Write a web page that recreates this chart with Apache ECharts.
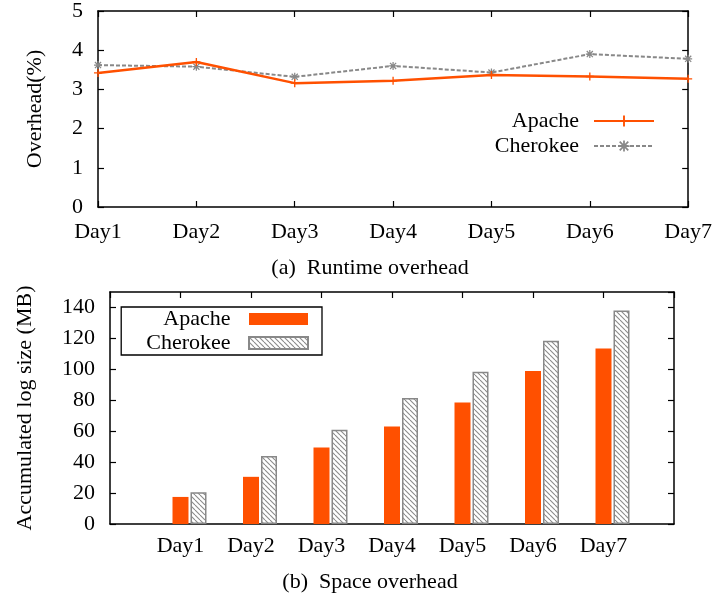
<!DOCTYPE html>
<html><head><meta charset="utf-8">
<script src="https://cdn.jsdelivr.net/npm/echarts@6/dist/echarts.min.js"></script>
<style>html,body{margin:0;padding:0;background:#fff}#c{width:715px;height:597px}</style>
</head><body><div id="c"></div>
<script>
// ---- data ----
const days = ['Day1', 'Day2', 'Day3', 'Day4', 'Day5', 'Day6', 'Day7'];
const runtimeApache = [3.42, 3.70, 3.16, 3.22, 3.37, 3.33, 3.27];
const runtimeCherokee = [3.62, 3.58, 3.32, 3.60, 3.43, 3.90, 3.78];
const spaceApache = [17.5, 30.5, 49.5, 63, 78.5, 99, 113.5];
const spaceCherokee = [20.5, 44, 61, 81.5, 98.5, 118.5, 138];
const runtimeTicks = [0, 1, 2, 3, 4, 5];
const spaceTicks = [0, 20, 40, 60, 80, 100, 120, 140];
const captionA = '(a)  Runtime overhead';
const captionB = '(b)  Space overhead';

// ---- styling ----
const FONT = 'Liberation Serif';
const FS = 22;
const ORANGE = '#ff5000';
const GRAY = '#888888';

function hatch() {
  const c = document.createElement('canvas');
  c.width = 5; c.height = 5;
  const g = c.getContext('2d');
  g.fillStyle = '#fff'; g.fillRect(0, 0, 5, 5);
  g.strokeStyle = '#8a8a8a'; g.lineWidth = 1.1;
  for (let i = -5; i <= 5; i += 5) {
    g.beginPath(); g.moveTo(i, 0); g.lineTo(i + 5, 5); g.stroke();
  }
  return c;
}

const padCats = [''].concat(days, ['']);
const pad = arr => ['-'].concat(arr, ['-']);

const axisLine = { show: true, onZero: false, lineStyle: { color: '#000', width: 1.5 } };
const tickIn = { show: true, inside: true, length: 6, lineStyle: { color: '#000', width: 1.2 } };
const lbl = { color: '#000', fontFamily: FONT, fontSize: FS };

const plusSym = 'path://M-0.5,-3H0.5V-0.5H3V0.5H0.5V3H-0.5V0.5H-3V-0.5H-0.5Z';
const starSym = 'path://M-2.8,-2.1L-2.1,-2.8L2.8,2.1L2.1,2.8Z M2.1,-2.8L2.8,-2.1L-2.1,2.8L-2.8,2.1Z M-3.2,-0.5L3.2,-0.5L3.2,0.5L-3.2,0.5Z M-0.5,-3.2L0.5,-3.2L0.5,3.2L-0.5,3.2Z';

const chart = echarts.init(document.getElementById('c'), null, { renderer: 'canvas' });
chart.setOption({
  backgroundColor: '#fff',
  animation: false,
  textStyle: { fontFamily: FONT },
  title: [
    { text: captionA, left: 365, top: 252, textAlign: 'center',
      textStyle: { fontFamily: FONT, fontSize: FS, fontWeight: 'normal', color: '#000' } },
    { text: captionB, left: 365, top: 566, textAlign: 'center',
      textStyle: { fontFamily: FONT, fontSize: FS, fontWeight: 'normal', color: '#000' } }
  ],
  legend: [
    { orient: 'vertical', align: 'right', right: 60, top: 110, padding: 0,
      itemWidth: 60, itemHeight: 14, itemGap: 3,
      data: ['Apache', 'Cherokee'].map(n => ({ name: n })),
      textStyle: { fontFamily: FONT, fontSize: FS, color: '#000', lineHeight: 20, padding: [0, 10, 0, 0] } },
    { orient: 'vertical', align: 'right', right: 393, top: 307, padding: [1, 13, 1, 25],
      itemWidth: 59, itemHeight: 12, itemGap: 2, icon: 'rect',
      borderColor: '#000', borderWidth: 1.3, borderRadius: 0,
      data: ['Apache ', 'Cherokee '].map(n => ({ name: n })),
      textStyle: { fontFamily: FONT, fontSize: FS, color: '#000', lineHeight: 20, padding: [0, 8, 0, 0] } }
  ],
  grid: [
    { left: 98, top: 10.5, width: 591, height: 196.5, containLabel: false },
    { left: 110, top: 292, width: 564, height: 232, containLabel: false }
  ],
  xAxis: [
    { gridIndex: 0, type: 'category', data: days, boundaryGap: false, position: 'bottom',
      axisLine, axisTick: tickIn, axisLabel: Object.assign({ margin: 14, interval: 0 }, lbl), splitLine: { show: false } },
    { gridIndex: 0, type: 'category', data: days, boundaryGap: false, position: 'top',
      axisLine, axisTick: tickIn, axisLabel: { show: false }, splitLine: { show: false } },
    { gridIndex: 1, type: 'category', data: padCats, boundaryGap: false, position: 'bottom',
      axisLine, axisTick: { show: false }, axisLabel: Object.assign({ margin: 11, interval: 0 }, lbl), splitLine: { show: false } },
    { gridIndex: 1, type: 'category', data: padCats, boundaryGap: false, position: 'top',
      axisLine, axisTick: Object.assign({}, tickIn, { interval: 0 }), axisLabel: { show: false }, splitLine: { show: false } }
  ],
  yAxis: [
    { gridIndex: 0, type: 'value', min: runtimeTicks[0], max: runtimeTicks[runtimeTicks.length - 1],
      interval: runtimeTicks[1] - runtimeTicks[0], position: 'left',
      name: 'Overhead(%)', nameLocation: 'middle', nameGap: 52, nameRotate: 90,
      nameTextStyle: { fontFamily: FONT, fontSize: FS, color: '#000' },
      axisLine, axisTick: tickIn, axisLabel: Object.assign({ margin: 15 }, lbl), splitLine: { show: false } },
    { gridIndex: 0, type: 'value', min: runtimeTicks[0], max: runtimeTicks[runtimeTicks.length - 1],
      interval: runtimeTicks[1] - runtimeTicks[0], position: 'right',
      axisLine, axisTick: tickIn, axisLabel: { show: false }, splitLine: { show: false } },
    { gridIndex: 1, type: 'value', min: spaceTicks[0], max: 150,
      interval: spaceTicks[1] - spaceTicks[0], position: 'left',
      name: 'Accumulated log size (MB)', nameLocation: 'middle', nameGap: 74, nameRotate: 90,
      nameTextStyle: { fontFamily: FONT, fontSize: FS, color: '#000' },
      axisLine, axisTick: tickIn, axisLabel: Object.assign({ margin: 15, showMaxLabel: false }, lbl), splitLine: { show: false } },
    { gridIndex: 1, type: 'value', min: spaceTicks[0], max: 150,
      interval: spaceTicks[1] - spaceTicks[0], position: 'right',
      axisLine, axisTick: tickIn, axisLabel: { show: false }, splitLine: { show: false } }
  ],
  series: [
    { name: 'Apache', type: 'line', xAxisIndex: 0, yAxisIndex: 0, data: runtimeApache,
      symbol: plusSym, symbolSize: 8, showAllSymbol: true,
      lineStyle: { color: ORANGE, width: 2.5 }, itemStyle: { color: ORANGE }, z: 4 },
    { name: 'Cherokee', type: 'line', xAxisIndex: 0, yAxisIndex: 0, data: runtimeCherokee,
      symbol: starSym, symbolSize: 8, showAllSymbol: true,
      lineStyle: { color: GRAY, width: 2, type: [4, 2] }, itemStyle: { color: GRAY }, z: 3 },
    { name: 'pad', type: 'bar', xAxisIndex: 2, yAxisIndex: 2, data: [], barWidth: 16, barGap: '12.5%' },
    { name: 'Apache ', type: 'bar', xAxisIndex: 2, yAxisIndex: 2, data: pad(spaceApache),
      barWidth: 16, barGap: '12.5%', itemStyle: { color: ORANGE } },
    { name: 'Cherokee ', type: 'bar', xAxisIndex: 2, yAxisIndex: 2, data: pad(spaceCherokee),
      barWidth: 16, barGap: '12.5%',
      itemStyle: { color: { image: hatch(), repeat: 'repeat' }, borderColor: GRAY, borderWidth: 1.5 } }
  ]
});
</script>
</body></html>
